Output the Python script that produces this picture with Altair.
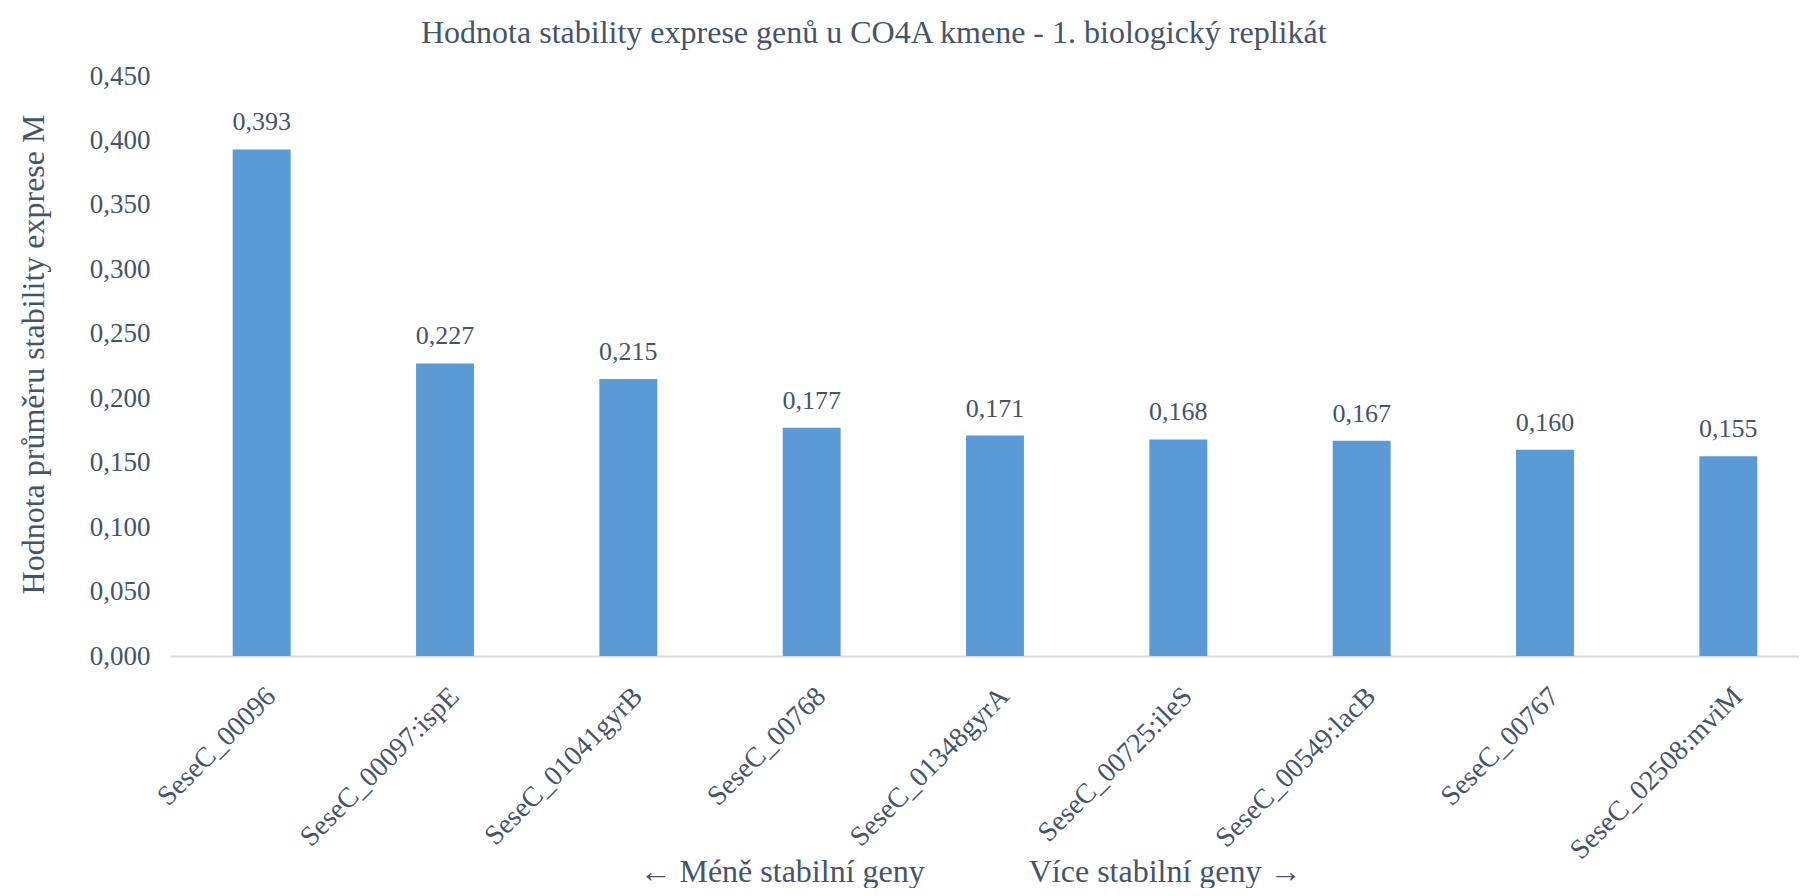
import altair as alt
import pandas as pd

genes = ["SeseC_00096", "SeseC_00097:ispE", "SeseC_01041gyrB", "SeseC_00768",
         "SeseC_01348gyrA", "SeseC_00725:ileS", "SeseC_00549:lacB", "SeseC_00767",
         "SeseC_02508:mviM"]
values = [0.393, 0.227, 0.215, 0.177, 0.171, 0.168, 0.167, 0.160, 0.155]
y_ticks = [0.0, 0.05, 0.10, 0.15, 0.20, 0.25, 0.30, 0.35, 0.40, 0.45]

title_text = "Hodnota stability exprese genů u CO4A kmene - 1. biologický replikát"
y_title = "Hodnota průměru stability exprese M"
x_title = "← Méně stabilní geny" + "\u00a0" * 13 + "Více stabilní geny →"

df = pd.DataFrame({"gene": genes, "value": values})
df["label"] = [f"{v:.3f}".replace(".", ",") for v in values]

FONT = "Liberation Serif"
TXT = "#44546A"
BAR = "#5B9BD5"

x_enc = alt.X(
    "gene:N", sort=genes,
    scale=alt.Scale(range=[0, 1650], paddingInner=0.684, paddingOuter=0.342),
    axis=alt.Axis(
        title=x_title, labelAngle=-45, labelFont=FONT, labelFontSize=28,
        labelColor=TXT, ticks=False, labelPadding=26, domainColor="#D9D9D9",
        domainWidth=2, titleFont=FONT, titleFontSize=32, titleColor=TXT,
        titleFontWeight="normal", titleX=800, titleY=225, titleAnchor="middle",
        titleBaseline="alphabetic", labelLimit=400,
    ),
)

bars = alt.Chart(df).mark_bar(color=BAR).encode(
    x=x_enc,
    y=alt.Y(
        "value:Q",
        scale=alt.Scale(domain=[0, 0.45], nice=False),
        axis=alt.Axis(
            values=y_ticks, labelExpr="replace(format(datum.value, '.3f'), '.', ',')",
            grid=False, ticks=False, domain=False, labelFont=FONT, labelFontSize=27,
            labelColor=TXT, labelPadding=20, title=y_title, titleFont=FONT,
            titleFontSize=32, titleColor=TXT, titleFontWeight="normal",
            titleX=-127, titleY=278, titleBaseline="alphabetic", titleAlign="center",
        ),
    ),
)

labels = alt.Chart(df).mark_text(
    font=FONT, fontSize=26, color=TXT, baseline="bottom", dy=-14
).encode(
    x=alt.X("gene:N", sort=genes),
    y=alt.Y("value:Q"),
    text="label:N",
)

chart = (
    alt.layer(bars, labels)
    .properties(
        width=1629, height=580,
        background="white",
        title=alt.TitleParams(
            title_text, font=FONT, fontSize=32, color=TXT, fontWeight="normal",
            anchor="start", frame="group", dx=251, offset=12,
        ),
        autosize=alt.AutoSizeParams(type="none"),
        padding={"left": 162, "top": 68, "right": 0, "bottom": 232},
    )
    .configure_view(strokeWidth=0, stroke=None)
)

chart.save("out.html", embed_options={"renderer": "svg", "actions": False})
